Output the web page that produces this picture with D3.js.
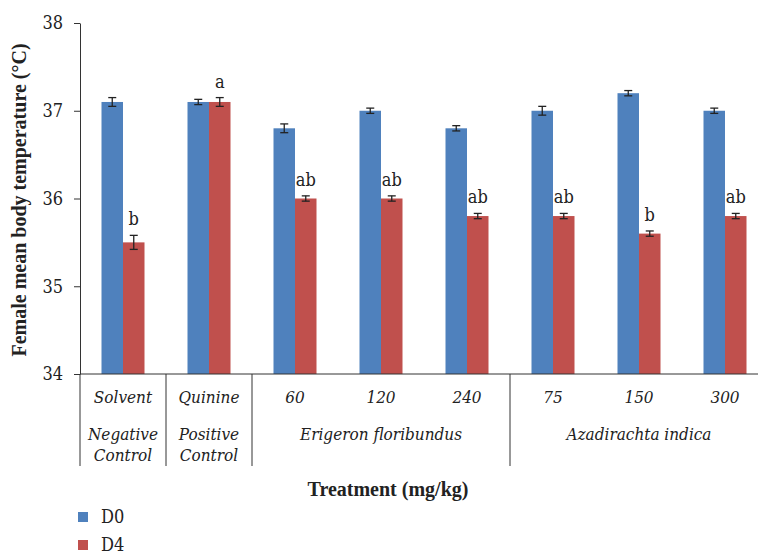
<!DOCTYPE html>
<html>
<head>
<meta charset="utf-8">
<script src="https://cdn.jsdelivr.net/npm/d3@7"></script>
<style>
  body { margin: 0; background: #fff; }
  svg text { font-family: "DejaVu Serif Condensed", "DejaVu Serif", serif; }
  svg text.bold { font-family: "Liberation Serif", "DejaVu Serif", serif; }
</style>
</head>
<body>
<svg id="chart" width="758" height="554"></svg>
<script>
// data
const doses = ["Solvent", "Quinine", "60", "120", "240", "75", "150", "300"];
const d0 = [37.1, 37.1, 36.8, 37.0, 36.8, 37.0, 37.2, 37.0];
const d4 = [35.5, 37.1, 36.0, 36.0, 35.8, 35.8, 35.6, 35.8];
const d0Err = [0.05, 0.03, 0.05, 0.03, 0.03, 0.05, 0.03, 0.03];
const d4Err = [0.08, 0.05, 0.03, 0.03, 0.03, 0.03, 0.03, 0.03];
const letters = ["b", "a", "ab", "ab", "ab", "ab", "b", "ab"];
const yTicks = [34, 35, 36, 37, 38];
const seriesNames = ["D0", "D4"];
const colors = ["#4f81bd", "#c0504d"];
// groups: label lines, first index, last index
const groups = [
    { lines: ["Negative", "Control"], from: 0, to: 0 },
    { lines: ["Positive", "Control"], from: 1, to: 1 },
    { lines: ["Erigeron floribundus"], from: 2, to: 4 },
    { lines: ["Azadirachta indica"], from: 5, to: 7 }
];

const svg = d3.select("#chart");
const plotLeft = 80, plotTop = 23, plotBottom = 374;

const x = d3.scaleBand().domain(doses).range([plotLeft, plotLeft + 86 * doses.length]).paddingInner(0.5).paddingOuter(0.25);
const sub = d3.scaleBand().domain(seriesNames).range([0, x.bandwidth()]);
const y = d3.scaleLinear().domain([34, 38]).range([plotBottom, plotTop]);
const step = x.step();

// bars
const series = [d0, d4];
const errs = [d0Err, d4Err];
seriesNames.forEach((s, si) => {
    svg.append("g").selectAll("rect")
        .data(doses)
        .enter()
        .append("rect")
        .attr("x", d => x(d) + sub(s))
        .attr("y", (d, i) => y(series[si][i]))
        .attr("width", sub.bandwidth())
        .attr("height", (d, i) => y(34) - y(series[si][i]))
        .attr("fill", colors[si]);

    // error bars
    const eb = svg.append("g").attr("stroke", "#222").attr("stroke-width", 1.3);
    doses.forEach((d, i) => {
        const cx = x(d) + sub(s) + sub.bandwidth() / 2;
        const hi = y(series[si][i] + errs[si][i]);
        const lo = y(series[si][i] - errs[si][i]);
        eb.append("line").attr("x1", cx).attr("x2", cx).attr("y1", hi).attr("y2", lo);
        eb.append("line").attr("x1", cx - 4).attr("x2", cx + 4).attr("y1", hi).attr("y2", hi);
        eb.append("line").attr("x1", cx - 4).attr("x2", cx + 4).attr("y1", lo).attr("y2", lo);
    });
});

// significance letters above D4
svg.append("g").selectAll("text")
    .data(doses)
    .enter()
    .append("text")
    .attr("x", d => x(d) + sub("D4") + sub.bandwidth() / 2)
    .attr("y", (d, i) => y(d4[i] + d4Err[i]) - 10)
    .attr("text-anchor", "middle")
    .attr("font-size", "18px")
    .attr("fill", "#222")
    .text((d, i) => letters[i]);

// y axis
const yAxis = svg.append("g")
    .attr("transform", `translate(${plotLeft},0)`)
    .call(d3.axisLeft(y).tickValues(yTicks).tickSize(6).tickSizeOuter(0).tickFormat(d3.format("d")));
yAxis.attr("font-family", null);
yAxis.selectAll("text").attr("font-size", "18px").attr("fill", "#222").attr("dx", "-8px");
yAxis.selectAll("line, path").attr("stroke", "#333");

// x axis line
svg.append("line")
    .attr("x1", plotLeft).attr("x2", 758)
    .attr("y1", plotBottom).attr("y2", plotBottom)
    .attr("stroke", "#333");

// dose labels
svg.append("g").selectAll("text")
    .data(doses)
    .enter()
    .append("text")
    .attr("x", d => x(d) + x.bandwidth() / 2)
    .attr("y", 403)
    .attr("text-anchor", "middle")
    .attr("font-size", "17px")
    .attr("font-style", "italic")
    .attr("fill", "#222")
    .text(d => d);

// group labels and separators
const gap = (step - x.bandwidth()) / 2;
groups.forEach(g => {
    const x0 = x(doses[g.from]) - gap;
    const x1 = x(doses[g.to]) + x.bandwidth() + gap;
    svg.append("line")
        .attr("x1", x0).attr("x2", x0)
        .attr("y1", plotBottom).attr("y2", 466)
        .attr("stroke", "#333");
    g.lines.forEach((ln, li) => {
        svg.append("text")
            .attr("x", (x0 + x1) / 2)
            .attr("y", 440 + li * 21)
            .attr("text-anchor", "middle")
            .attr("font-size", "17px")
            .attr("font-style", "italic")
            .attr("fill", "#222")
            .text(ln);
    });
});

// axis titles
svg.append("text")
    .attr("class", "bold")
    .attr("x", 388)
    .attr("y", 496)
    .attr("text-anchor", "middle")
    .attr("font-size", "20px")
    .attr("font-weight", "bold")
    .attr("fill", "#222")
    .text("Treatment (mg/kg)");

svg.append("text")
    .attr("class", "bold")
    .attr("transform", "rotate(-90)")
    .attr("x", -200)
    .attr("y", 26)
    .attr("text-anchor", "middle")
    .attr("font-size", "20px")
    .attr("font-weight", "bold")
    .attr("fill", "#222")
    .text("Female mean body temperature (°C)");

// legend
const legend = svg.append("g");
seriesNames.forEach((s, i) => {
    legend.append("rect")
        .attr("x", 78).attr("y", 512 + i * 28)
        .attr("width", 10).attr("height", 10)
        .attr("fill", colors[i]);
    legend.append("text")
        .attr("x", 101).attr("y", 523 + i * 28)
        .attr("font-size", "18px")
        .attr("fill", "#222")
        .text(s);
});
</script>
</body>
</html>
